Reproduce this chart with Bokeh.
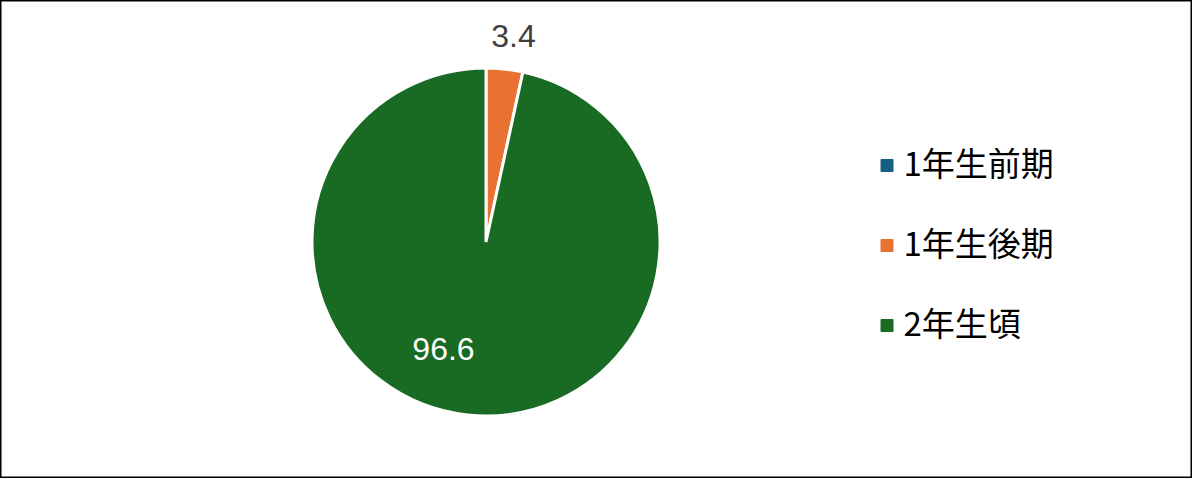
import math
from bokeh.plotting import figure
from bokeh.models import Range1d, ColumnDataSource
from bokeh.core.properties import value
from bokeh.embed import file_html
from bokeh.resources import INLINE

# ---- data ----
categories = ["1年生前期", "1年生後期", "2年生頃"]
values = [0.0, 3.4, 96.6]
colors = ["#156082", "#E97132", "#196B24"]
label_texts = ["", "3.4", "96.6"]
label_colors = ["#404040", "#404040", "#FFFFFF"]

# ---- layout constants (pixels) ----
W, H = 1192, 478
CX, CY, R = 485.5, 236.5, 174
label_dx = [0, 27.5, -42.5]
label_dy = [0, 206.5, -106.5]
LEG_X, LEG_Y0, LEG_STEP = 886.5, 313, 80

p = figure(width=W, height=H, output_backend="svg", toolbar_location=None,
           x_range=Range1d(0, W), y_range=Range1d(0, H), min_border=0)
p.axis.visible = False
p.grid.visible = False
p.outline_line_color = "black"
p.outline_line_width = 2
p.background_fill_color = "white"
p.border_fill_color = "white"

total = sum(values)
starts, ends = [], []
cum = 0.0
for v in values:
    a0 = math.pi / 2 - 2 * math.pi * cum / total
    cum += v
    a1 = math.pi / 2 - 2 * math.pi * cum / total
    starts.append(a0)
    ends.append(a1)

src = ColumnDataSource(dict(cat=categories, val=values, color=colors,
                            start=starts, end=ends,
                            x=[CX] * 3, y=[CY] * 3))
p.wedge(x="x", y="y", radius=R, radius_units="screen",
        start_angle="start", end_angle="end", direction="clock",
        fill_color="color", line_color="white", line_width=3, source=src)

# data labels
for i, t in enumerate(label_texts):
    if not t:
        continue
    p.text(x=[CX + label_dx[i]], y=[CY + label_dy[i]], text=[t],
           text_font=value("Liberation Sans"), text_font_size="32px",
           text_color=label_colors[i], text_align="center", text_baseline="middle")

# legend
leg_y = [LEG_Y0 - i * LEG_STEP for i in range(len(categories))]
lsrc = ColumnDataSource(dict(x=[LEG_X] * 3, tx=[LEG_X + 16.5] * 3, y=leg_y,
                             cat=categories, color=colors))
p.scatter(x="x", y="y", marker="square", size=12, fill_color="color",
          line_color="color", source=lsrc)
p.text(x="tx", y="y", text="cat", text_font=value("Noto Sans CJK JP"),
       text_font_size="33px", text_color="black", text_baseline="middle",
       text_align="left", y_offset=-4, source=lsrc)

open("out.html", "w").write(file_html(p, INLINE))
